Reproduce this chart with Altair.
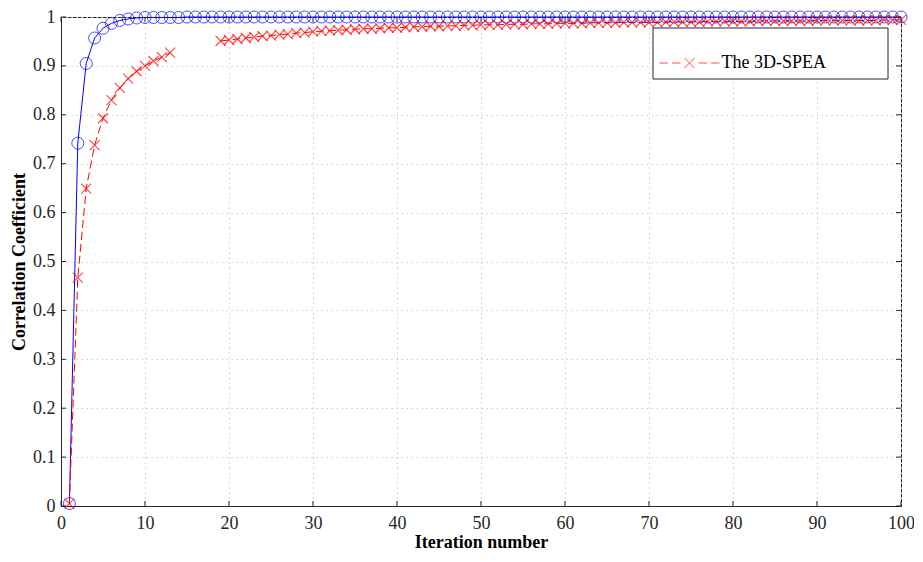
import altair as alt
import pandas as pd

# ---------------- data ----------------
iters = list(range(1, 101))
blue_vals = [0.005, 0.742, 0.905, 0.957, 0.977, 0.987, 0.993, 0.996, 0.998, 0.999,
             0.999, 0.999, 0.999, 0.999] + [1.0] * 86

red_x = list(range(1, 14)) + list(range(19, 101))
red_vals = [0.005, 0.467, 0.649, 0.738, 0.793, 0.830, 0.855, 0.874, 0.889, 0.900,
            0.910, 0.918, 0.927,
            0.951, 0.953, 0.955, 0.957, 0.959, 0.961, 0.962, 0.964, 0.965, 0.967,
            0.968, 0.970, 0.971, 0.972, 0.973, 0.974, 0.975, 0.976, 0.976, 0.977,
            0.978, 0.978, 0.979, 0.980, 0.980, 0.981, 0.981, 0.982, 0.982, 0.983,
            0.983, 0.984, 0.984, 0.984, 0.985, 0.985, 0.985, 0.986, 0.986, 0.986,
            0.987, 0.987, 0.987, 0.987, 0.988, 0.988, 0.988, 0.988, 0.989, 0.989,
            0.989, 0.989, 0.989, 0.990, 0.990, 0.990, 0.990, 0.990, 0.991, 0.991,
            0.991, 0.991, 0.991, 0.991, 0.992, 0.992, 0.992, 0.992, 0.992, 0.992,
            0.992, 0.993, 0.993, 0.993, 0.993, 0.993, 0.993, 0.993, 0.993, 0.994,
            0.994, 0.994]
red_name = "The 3D-SPEA"

x_ticks = [0, 10, 20, 30, 40, 50, 60, 70, 80, 90, 100]
y_ticks = [0, 0.1, 0.2, 0.3, 0.4, 0.5, 0.6, 0.7, 0.8, 0.9, 1.0]

# ---------------- frames ----------------
blue_df = pd.DataFrame({"x": iters, "y": blue_vals})
red_df = pd.DataFrame({"x": red_x, "y": red_vals})
red_df["seg"] = [1 if v <= 13 else 2 for v in red_x]
red_df["series"] = red_name
xt = pd.DataFrame({"x": x_ticks})
yt = pd.DataFrame({"y": y_ticks})

W, H = 840, 489
AX = "#262626"
FONT = "Liberation Serif"

xs = alt.Scale(domain=[0, 100], nice=False, zero=False, padding=0)
ys = alt.Scale(domain=[0, 1], nice=False, padding=0)

xaxis = alt.Axis(values=x_ticks, title="Iteration number", grid=True, ticks=False,
                 tickSize=0, labelPadding=8, titlePadding=1, format="d",
                 labelFlush=False)
yaxis = alt.Axis(values=y_ticks, title="Correlation Coefficient", grid=True, ticks=False,
                 tickSize=0, labelPadding=6, titlePadding=4, format="~g",
                 labelFlush=False)

XPATH = "M-1,-1L1,1M-1,1L1,-1"
LEG_PATH = ("M-6,0L-4.3,0M-3.5,0L-1.8,0M1.8,0L3.5,0M4.3,0L6,0"
            "M-1,-1L1,1M-1,1L1,-1")

legend = alt.Legend(
    orient="none", legendX=593, legendY=9,
    title="\u00a0", titleFontSize=18, titlePadding=5, titleFont=FONT,
    padding=5, strokeColor="transparent", fillColor="transparent",
    symbolType=LEG_PATH, symbolSize=100, symbolOffset=21.5,
    symbolStrokeWidth=1, symbolFillColor="transparent",
    labelOffset=23, labelFont=FONT, labelFontSize=18, labelColor="black",
    labelLimit=400,
)
cscale = alt.Scale(domain=[red_name], range=["#ff0000"])

X = alt.X("x:Q", scale=xs, axis=xaxis)
Y = alt.Y("y:Q", scale=ys, axis=yaxis)

blue_line = alt.Chart(blue_df).mark_line(color="#0000ff", strokeWidth=1).encode(x=X, y=Y)
blue_pts = alt.Chart(blue_df).mark_point(shape="circle", filled=False, size=144,
                                         color="#0000ff", strokeWidth=1).encode(x=X, y=Y)
red_line = alt.Chart(red_df).mark_line(strokeWidth=1, strokeDash=[8, 4]).encode(
    x=X, y=Y, detail="seg:N",
    color=alt.Color("series:N", scale=cscale, legend=legend),
)
red_pts = alt.Chart(red_df).mark_point(shape=XPATH, filled=False, size=100,
                                       strokeWidth=1.2).encode(
    x=X, y=Y,
    color=alt.Color("series:N", scale=cscale, legend=legend),
)

def rule(df):
    return alt.Chart(df).mark_rule(color=AX, strokeWidth=1)

tick_b = rule(xt).encode(x=X, y=alt.value(H), y2=alt.value(H - 5))
tick_t = rule(xt).encode(x=X, y=alt.value(0), y2=alt.value(5))
tick_l = rule(yt).encode(y=Y, x=alt.value(0), x2=alt.value(5))
tick_r = rule(yt).encode(y=Y, x=alt.value(W), x2=alt.value(W - 5))

# legend frame (white box with dark border)
legend_box = alt.Chart(pd.DataFrame({"k": [0]})).mark_rect(
    fill="white", stroke=AX, strokeWidth=1
).encode(x=alt.value(592), x2=alt.value(827), y=alt.value(11), y2=alt.value(62))

chart = alt.layer(
    blue_line, tick_b, tick_t, tick_l, tick_r, red_line, blue_pts, red_pts, legend_box
).properties(
    width=W, height=H,
    autosize=alt.AutoSizeParams(type="none"),
    padding={"left": 53, "top": 9, "right": 13, "bottom": 44},
    background="white",
).configure_view(
    stroke=AX, strokeWidth=1
).configure_axis(
    labelFont=FONT, labelFontSize=18, labelColor=AX,
    titleFont=FONT, titleFontSize=18, titleFontWeight="bold", titleColor="black",
    domainColor=AX, domainWidth=1,
    gridColor="#cfcfcf", gridDash=[1.5, 3.5], gridWidth=1,
)

chart.save("out.html", embed_options={"renderer": "svg", "actions": False})
